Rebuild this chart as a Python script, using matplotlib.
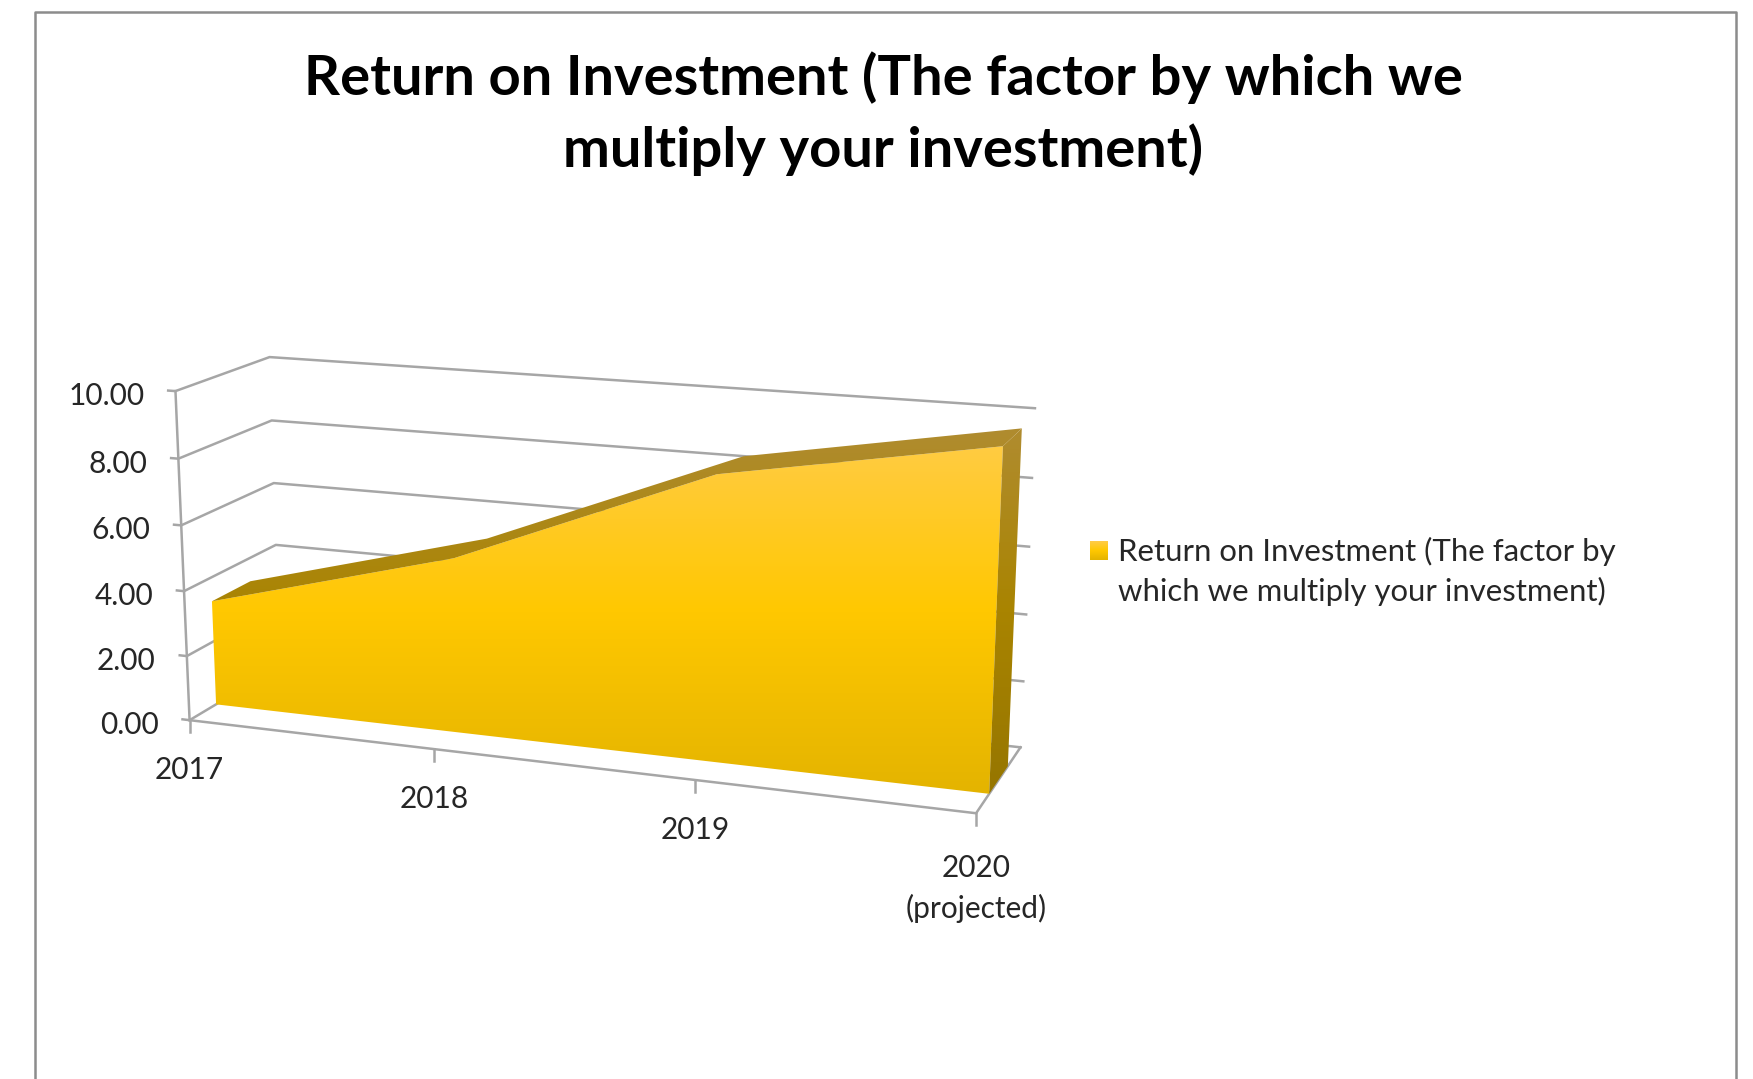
import numpy as np
import matplotlib
matplotlib.use('Agg')
import matplotlib.pyplot as plt
from matplotlib.colors import LinearSegmentedColormap
from matplotlib.patches import Polygon

plt.rcParams['font.family'] = ['Lato', 'DejaVu Sans']

title = 'Return on Investment (The factor by which we\nmultiply your investment)'
legend_lines = ['Return on Investment (The factor by', 'which we multiply your investment)']
categories = ['2017', '2018', '2019', '2020\n(projected)']
cat_pos = [0, 1, 2, 3]
values = [3.26, 5.3, 8.4, 9.77]
y_ticks = [0, 2, 4, 6, 8, 10]

# where the chart box corners land in the picture: (category, value, depth) -> pixel
S = 1753 / 1568
calib = [
    (0, 0, 0, 170, 645), (1, 0, 0, 388, 672), (2, 0, 0, 621, 699), (3, 0, 0, 873, 727),
    (0, 10, 0, 157, 350), (0, 8, 0, 160, 410), (0, 6, 0, 162, 469), (0, 4, 0, 165, 527), (0, 2, 0, 167, 586),
    (0, 10, 1, 240, 320), (0, 8, 1, 243, 376), (0, 6, 1, 245, 432), (0, 4, 1, 247, 488),
    (3, 10, 1, 926, 366), (3, 8, 1, 925, 428), (3, 6, 1, 919, 489), (3, 4, 1, 917, 549), (3, 2, 1, 915, 608),
    (3, 0, 1, 914, 668),
]
calib = np.array(calib, dtype=float)

A = []
b = []
for cx, cy, cz, u, v in calib:
    u, v = u * S, v * S
    A.append([cx, cy, cz, 1, 0, 0, 0, 0, -u * cx, -u * cy, -u * cz])
    A.append([0, 0, 0, 0, cx, cy, cz, 1, -v * cx, -v * cy, -v * cz])
    b += [u, v]
P = np.append(np.linalg.lstsq(np.array(A), np.array(b), rcond=None)[0], 1).reshape(3, 4)


def project(x, y, z):
    x, y, z = np.broadcast_arrays(np.asarray(x, float), np.asarray(y, float), np.asarray(z, float))
    pts = P @ np.vstack([x, y, z, np.ones_like(x)])
    return pts[0] / pts[2], pts[1] / pts[2]


fig = plt.figure(figsize=(17.53, 10.79), dpi=100)
ax = fig.add_axes([0, 0, 1, 1])
ax.set_xlim(0, 1753)
ax.set_ylim(1079, 0)
ax.axis('off')

grid_col = '#a6a6a6'
text_col = '#262626'

# outer frame, runs off the bottom of the picture
ax.plot([35, 35, 1736, 1736], [1079, 12, 12, 1079], color='#8c8c8c', lw=1.8)

ax.text(883, 114, title, ha='center', va='center', fontsize=40.4, fontweight='bold',
        color='black', linespacing=1.44)

# walls and floor
for t in y_ticks:
    xs, ys = project([-0.03, 0, 0, 3], [t] * 4, [0, 0, 1, 1])
    ax.plot(xs, ys, color=grid_col, lw=1.8, zorder=1)
    lx, ly = project(0, t, 0)
    ax.text(lx[0] - 31, ly[0] + 5, '%.2f' % t, ha='right', va='center', fontsize=21.5, color=text_col)
xs, ys = project([0, 0], [0, 10], [0, 0])
ax.plot(xs, ys, color=grid_col, lw=1.8, zorder=1)
xs, ys = project([0, 3, 3], [0, 0, 0], [0, 0, 1])
ax.plot(xs, ys, color=grid_col, lw=1.8, zorder=1)

label_gap = [50, 50, 50, 75]
for c, name, gap in zip(cat_pos, categories, label_gap):
    xs, ys = project(c, 0, 0)
    ax.plot([xs[0], xs[0]], [ys[0], ys[0] + 12], color=grid_col, lw=1.8, zorder=1)
    ax.text(xs[0], ys[0] + gap, name, ha='center', va='center', fontsize=21.5, color=text_col, linespacing=1.5)

# the area: front face, top strip, end cap
z_front = 0.28
z_back = 0.70
cat_draw = np.array(cat_pos, float)
stops = [(0, '#ffcc4a'), (0.5, '#ffc800'), (1, '#e3b300')]
cmap = LinearSegmentedColormap.from_list('front', stops)
dark_stops = [(0, '#b08c30'), (0.5, '#a98400'), (1, '#957500')]
cmap_dark = LinearSegmentedColormap.from_list('side', dark_stops)
grad = np.linspace(0, 1, 256).reshape(-1, 1)


def grad_poly(xs, ys, cm, y0=425, y1=800):
    im = ax.imshow(grad, cmap=cm, extent=[0, 1753, y1, y0], aspect='auto', zorder=3)
    im.set_clip_path(Polygon(np.c_[xs, ys], closed=True, transform=ax.transData))


fx, fy = project(cat_draw, values, z_front)
bx, by = project(cat_draw[::-1], 0, z_front)
grad_poly(np.r_[fx, bx], np.r_[fy, by], cmap)

tx, ty = project(cat_draw[::-1], np.array(values)[::-1], z_back)
grad_poly(np.r_[fx, tx], np.r_[fy, ty], cmap_dark)

sx, sy = project([3, 3, 3, 3], [values[3], values[3], 0, 0], [z_front, z_back, z_back, z_front])
grad_poly(sx, sy, cmap_dark)

# legend
ax.imshow(grad, cmap=cmap, extent=[1090, 1108, 560, 541], aspect='auto', zorder=3)
ax.text(1118, 551, legend_lines[0], ha='left', va='center', fontsize=22.4, color=text_col)
ax.text(1118, 591, legend_lines[1], ha='left', va='center', fontsize=22.4, color=text_col)
ax.set_xlim(0, 1753)
ax.set_ylim(1079, 0)

fig.savefig('out.png', dpi=100, facecolor='white')
